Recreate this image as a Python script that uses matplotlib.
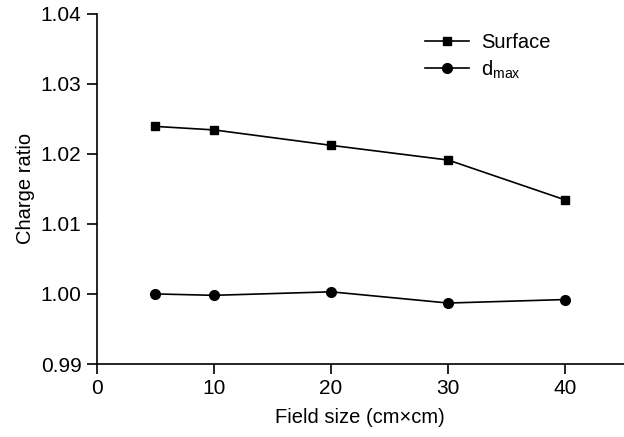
import matplotlib
matplotlib.use("Agg")
import matplotlib.pyplot as plt

plt.rcParams['font.family'] = ['Liberation Sans', 'DejaVu Sans']

field_size = [5, 10, 20, 30, 40]
surface = [1.0239, 1.0234, 1.0212, 1.0191, 1.0134]
dmax = [1.0000, 0.9998, 1.0003, 0.9987, 0.9992]

fig = plt.figure(figsize=(6.24, 4.37), dpi=100)
ax = fig.add_axes([0.155, 0.167, 0.845, 0.802])

ax.plot(field_size, surface, color='black', lw=1.2, marker='s', ms=6, label='Surface')
ax.plot(field_size, dmax, color='black', lw=1.2, marker='o', ms=7, label=r'd$_{\mathregular{max}}$')

ax.set_xlim(0, 45)
ax.set_ylim(0.99, 1.04)
ax.set_xticks([0, 10, 20, 30, 40])
ax.set_yticks([0.99, 1.00, 1.01, 1.02, 1.03, 1.04])
ax.set_yticklabels(['0.99', '1.00', '1.01', '1.02', '1.03', '1.04'])
ax.spines['top'].set_visible(False)
ax.spines['right'].set_visible(False)
ax.tick_params(direction='out', length=7, width=1.2, labelsize=15, colors='black', pad=4)
for s in ['left', 'bottom']:
    ax.spines[s].set_linewidth(1.2)

ax.set_xlabel('Field size (cm\u00d7cm)', fontsize=14.5, labelpad=7)
ax.set_ylabel('Charge ratio', fontsize=14.5, labelpad=4)

ax.legend(loc='upper right', bbox_to_anchor=(0.895, 0.995), frameon=False, fontsize=14.5,
          handlelength=2.2, handletextpad=0.6, labelspacing=0.3)

fig.savefig('out.png', dpi=100)
